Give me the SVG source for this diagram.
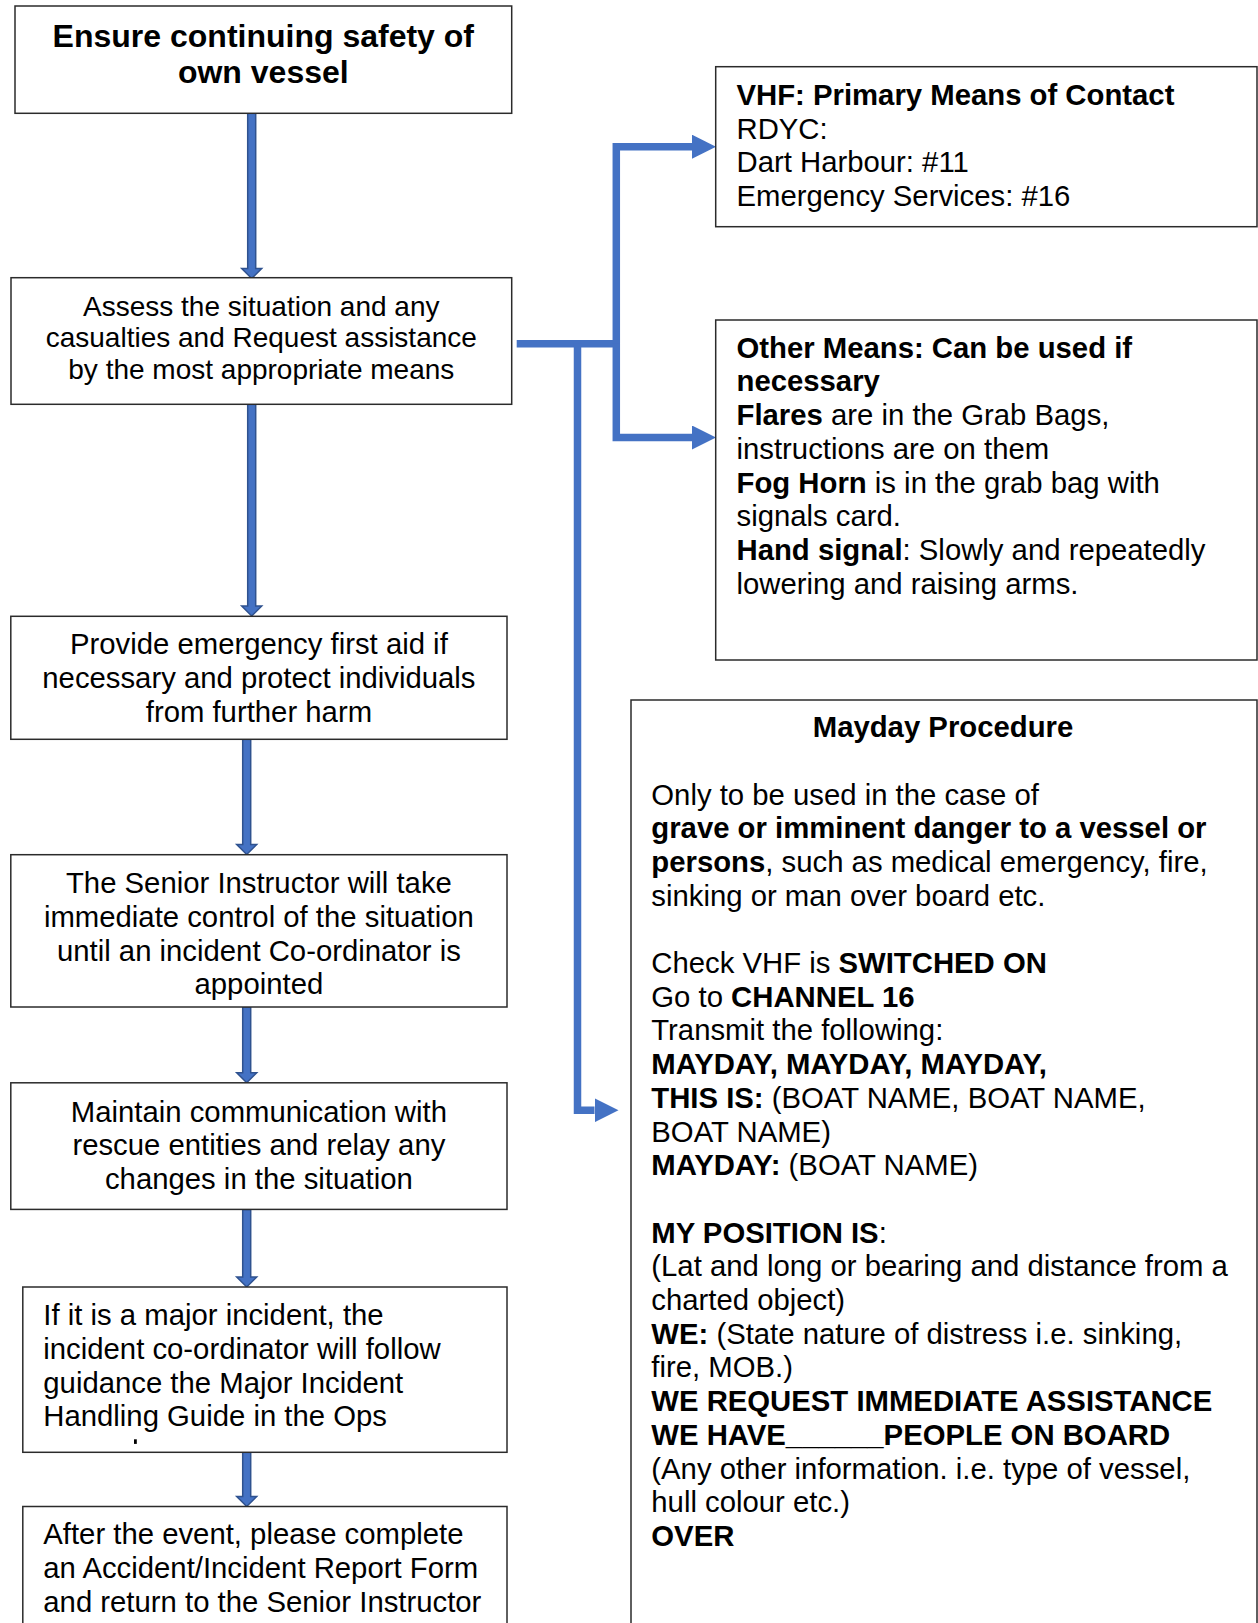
<svg xmlns="http://www.w3.org/2000/svg" width="1258" height="1623" viewBox="0 0 1258 1623">
  <style>
    .box { fill: #ffffff; stroke: #2b2b2b; stroke-width: 1.5; }
    text { font-family: 'Liberation Sans', Arial, sans-serif; fill: #000000; }
    .t28 { font-size: 28px; }
    .t29 { font-size: 29.3px; }
    .h32 { font-size: 32px; font-weight: bold; }
    .c { text-anchor: middle; }
    .b { font-weight: bold; }
    .blk { fill: #4472C4; stroke: #2F528F; stroke-width: 1.5; stroke-linejoin: miter; }
    .link { fill: none; stroke: #4472C4; stroke-width: 7.5; stroke-linejoin: miter; }
  </style>
  <defs>
    <marker id="head" viewBox="0 0 24 24" markerUnits="userSpaceOnUse" markerWidth="24" markerHeight="24" refX="0" refY="12" orient="auto">
      <path d="M0,0 L24,12 L0,24 Z" fill="#4472C4"/>
    </marker>
  </defs>
  <rect x="0" y="0" width="1258" height="1623" fill="#ffffff"/>

  <!-- connectors -->
  <g id="connectors">
    <!-- block arrows down the left-hand column -->
    <path class="blk" d="M247.7 113.3 H255.7 V268.5 H261.7 L251.7 278.5 L241.7 268.5 H247.7 Z"/>
    <path class="blk" d="M247.7 404.3 H255.7 V606 H261.7 L251.7 616 L241.7 606 H247.7 Z"/>
    <path class="blk" d="M242.7 739.3 H250.7 V844.5 H256.7 L246.7 854.5 L236.7 844.5 H242.7 Z"/>
    <path class="blk" d="M242.7 1007 H250.7 V1072.8 H256.7 L246.7 1082.8 L236.7 1072.8 H242.7 Z"/>
    <path class="blk" d="M242.7 1209.4 H250.7 V1277 H256.7 L246.7 1287 L236.7 1277 H242.7 Z"/>
    <path class="blk" d="M242.7 1452.3 H250.7 V1496.5 H256.7 L246.7 1506.5 L236.7 1496.5 H242.7 Z"/>
    <!-- branch from the assessment step to the contact options -->
    <path class="link" d="M516.7 343.7 H620"/>
    <path class="link" d="M616.3 343.7 V146.7 H692" marker-end="url(#head)"/>
    <path class="link" d="M616.3 343.7 V437.5 H692" marker-end="url(#head)"/>
    <path class="link" d="M577.5 343.7 V1110.3 H594.5" marker-end="url(#head)"/>
  </g>

  <g id="ensure-safety">
    <rect class="box" x="15" y="6" width="496.7" height="107.3"/>
    <text class="h32 c" x="263.3" y="47">Ensure continuing safety of</text>
    <text class="h32 c" x="263.3" y="83">own vessel</text>
  </g>

  <g id="assess">
    <rect class="box" x="11" y="277.7" width="500.7" height="126.6"/>
    <text class="t28 c" x="261.3" y="315.5">Assess the situation and any</text>
    <text class="t28 c" x="261.3" y="347.2">casualties and Request assistance</text>
    <text class="t28 c" x="261.3" y="379">by the most appropriate means</text>
  </g>

  <g id="first-aid">
    <rect class="box" x="10.8" y="616.3" width="496.2" height="123"/>
    <text class="t29 c" x="258.9" y="654.3">Provide emergency first aid if</text>
    <text class="t29 c" x="258.9" y="688">necessary and protect individuals</text>
    <text class="t29 c" x="258.9" y="721.7">from further harm</text>
  </g>

  <g id="senior-instructor">
    <rect class="box" x="10.8" y="854.7" width="496.2" height="152.3"/>
    <text class="t29 c" x="258.9" y="893.2">The Senior Instructor will take</text>
    <text class="t29 c" x="258.9" y="926.9">immediate control of the situation</text>
    <text class="t29 c" x="258.9" y="960.6">until an incident Co-ordinator is</text>
    <text class="t29 c" x="258.9" y="994.3">appointed</text>
  </g>

  <g id="communication">
    <rect class="box" x="10.8" y="1082.8" width="496.2" height="126.6"/>
    <text class="t29 c" x="258.9" y="1121.6">Maintain communication with</text>
    <text class="t29 c" x="258.9" y="1155.3">rescue entities and relay any</text>
    <text class="t29 c" x="258.9" y="1189">changes in the situation</text>
  </g>

  <g id="major-incident">
    <rect class="box" x="22.8" y="1287" width="484.2" height="165.3"/>
    <text class="t29" x="43.3" y="1325.3">If it is a major incident, the</text>
    <text class="t29" x="43.3" y="1359">incident co-ordinator will follow</text>
    <text class="t29" x="43.3" y="1392.7">guidance the Major Incident</text>
    <text class="t29" x="43.3" y="1426.4">Handling Guide in the Ops</text>
    <rect x="134" y="1439.3" width="2.8" height="4.6" fill="#000000"/>
  </g>

  <g id="report">
    <rect class="box" x="22.8" y="1506.5" width="484.2" height="140"/>
    <text class="t29" x="43.3" y="1544.3">After the event, please complete</text>
    <text class="t29" x="43.3" y="1578">an Accident/Incident Report Form</text>
    <text class="t29" x="43.3" y="1611.7">and return to the Senior Instructor</text>
  </g>

  <g id="vhf">
    <rect class="box" x="715.7" y="66.7" width="541.3" height="160"/>
    <text class="t29 b" x="736.5" y="105">VHF: Primary Means of Contact</text>
    <text class="t29" x="736.5" y="138.7">RDYC:</text>
    <text class="t29" x="736.5" y="172.4">Dart Harbour: #11</text>
    <text class="t29" x="736.5" y="206.1">Emergency Services: #16</text>
  </g>

  <g id="other-means">
    <rect class="box" x="715.7" y="320" width="541.3" height="340"/>
    <text class="t29 b" x="736.5" y="357.7">Other Means: Can be used if</text>
    <text class="t29 b" x="736.5" y="391.4">necessary</text>
    <text class="t29" x="736.5" y="425.1"><tspan class="b">Flares</tspan> are in the Grab Bags,</text>
    <text class="t29" x="736.5" y="458.8">instructions are on them</text>
    <text class="t29" x="736.5" y="492.5"><tspan class="b">Fog Horn</tspan> is in the grab bag with</text>
    <text class="t29" x="736.5" y="526.2">signals card.</text>
    <text class="t29" x="736.5" y="559.9"><tspan class="b">Hand signal</tspan>: Slowly and repeatedly</text>
    <text class="t29" x="736.5" y="593.6">lowering and raising arms.</text>
  </g>

  <g id="mayday">
    <rect class="box" x="631" y="700" width="626" height="960"/>
    <text class="t29 b c" x="943" y="737">Mayday Procedure</text>
    <text class="t29" x="651.3" y="804.5">Only to be used in the case of</text>
    <text class="t29 b" x="651.3" y="838.2">grave or imminent danger to a vessel or</text>
    <text class="t29" x="651.3" y="871.9"><tspan class="b">persons</tspan>, such as medical emergency, fire,</text>
    <text class="t29" x="651.3" y="905.6">sinking or man over board etc.</text>
    <text class="t29" x="651.3" y="973">Check VHF is <tspan class="b">SWITCHED ON</tspan></text>
    <text class="t29" x="651.3" y="1006.7">Go to <tspan class="b">CHANNEL 16</tspan></text>
    <text class="t29" x="651.3" y="1040.4">Transmit the following:</text>
    <text class="t29 b" x="651.3" y="1074.1">MAYDAY, MAYDAY, MAYDAY,</text>
    <text class="t29" x="651.3" y="1107.8"><tspan class="b">THIS IS:</tspan> (BOAT NAME, BOAT NAME,</text>
    <text class="t29" x="651.3" y="1141.5">BOAT NAME)</text>
    <text class="t29" x="651.3" y="1175.2"><tspan class="b">MAYDAY:</tspan> (BOAT NAME)</text>
    <text class="t29" x="651.3" y="1242.6"><tspan class="b">MY POSITION IS</tspan>:</text>
    <text class="t29" x="651.3" y="1276.3">(Lat and long or bearing and distance from a</text>
    <text class="t29" x="651.3" y="1310">charted object)</text>
    <text class="t29" x="651.3" y="1343.7"><tspan class="b">WE:</tspan> (State nature of distress i.e. sinking,</text>
    <text class="t29" x="651.3" y="1377.4">fire, MOB.)</text>
    <text class="t29 b" x="651.3" y="1411.1">WE REQUEST IMMEDIATE ASSISTANCE</text>
    <text class="t29 b" x="651.3" y="1444.8">WE HAVE______PEOPLE ON BOARD</text>
    <text class="t29" x="651.3" y="1478.5">(Any other information. i.e. type of vessel,</text>
    <text class="t29" x="651.3" y="1512.2">hull colour etc.)</text>
    <text class="t29 b" x="651.3" y="1546">OVER</text>
  </g>
</svg>
